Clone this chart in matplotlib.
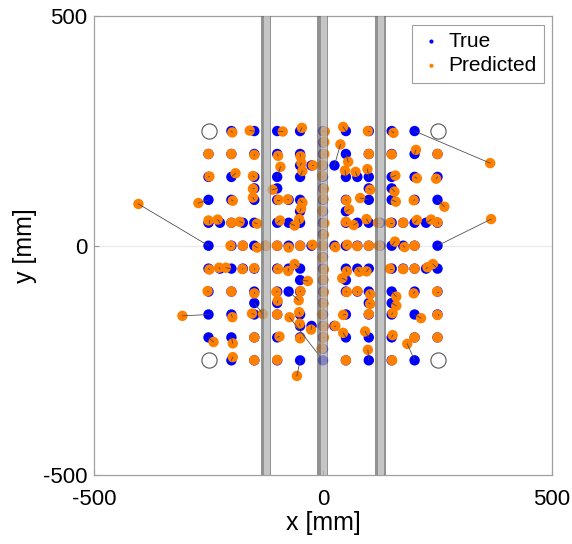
import matplotlib
matplotlib.use("Agg")
import matplotlib.pyplot as plt
import numpy as np

plt.rcParams['font.family'] = ['Liberation Sans', 'DejaVu Sans']
plt.rcParams['axes.unicode_minus'] = False

# true / predicted positions in mm
true_x = [-200, -150, -100, -50, 0, 50, 100, 150, 200,
          -250, -200, -150, -100, -50, 0, 50, 100, 150, 200, 250,
          -50, -25, 25, 75,
          -250, -200, -150, -100, -50, 0, 50, 100, 150, 200, 250,
          -150, -100, 0, 100, 150,
          -250, -200, -150, -100, -75, -50, 0, 50, 100, 150, 200, 250,
          -50, 0, 50,
          -250, -225, -200, -175, -150, -100, -75, -50, 0, 50, 75, 100, 125, 150, 175, 200, 225, 250,
          -250, -200, -175, -150, -125, -100, -75, -50, -25, 0, 25, 50, 75, 100, 125, 150, 175, 200, 250,
          -250, -225, -200, -175, -150, -100, -75, -50, 0, 50, 75, 100, 150, 175, 200, 225, 250,
          -50, 0, 50,
          -250, -200, -150, -100, -75, -50, 0, 50, 75, 100, 150, 200, 250,
          -150, -100, 0, 100, 150,
          -250, -200, -150, -100, -50, 0, 50, 100, 150, 200, 250,
          -50, -25, 25,
          -250, -200, -150, -100, -50, 0, 50, 100, 150, 200, 250,
          -200, -150, -100, -50, 0, 50, 100, 150, 200,
          0, 0, 0, 0, 0, 0]
true_y = [250] * 9 + [200] * 11 + [175, 175, 175, 150] + [150] * 11 + [125] * 5 + [100] * 12 + [75] * 3 \
    + [50] * 18 + [0] * 19 + [-50] * 17 + [-75] * 3 + [-100] * 13 + [-125] * 5 + [-150] * 11 \
    + [-175] * 3 + [-200] * 11 + [-250] * 9 + [225, 175, 25, -25, -175, -225]

pred_x = [-198, -160, -88, -46, 4, 44, 98, 154, 365,
          -250, -200, -150, -98, -49, 3, 55, 100, 150, 203, 250,
          -47, -22, 38, 71,
          -248, -191, -153, -93, -45, -2, 48, 97, 158, 205, 247,
          -153, -110, 2, 103, 156,
          -272, -197, -153, -97, -77, -45, 1, 51, 81, 159, 198, 265,
          -48, -2, 57,
          -250, -230, -200, -182, -144, -94, -62, -52, 3, 50, 67, 95, 120, 147, 175, 205, 236, 250,
          -403, -202, -175, -144, -124, -100, -75, -50, -23, 0, 27, 53, 75, 100, 122, 157, 178, 200, 367,
          -248, -227, -212, -176, -150, -98, -76, -62, 2, 52, 79, 95, 146, 175, 200, 228, 240,
          -33, 1, 42,
          -252, -200, -150, -102, -53, -49, 2, 52, 75, 103, 160, 198, 249,
          -131, -99, 1, 103, 160,
          -307, -198, -155, -100, -52, -2, 44, 100, 152, 214, 250,
          -51, -26, 27,
          -239, -197, -150, -95, -50, 2, 44, 92, 152, 200, 250,
          -197, -150, -100, -57, -73, 50, 98, 151, 184,
          3, -2, 2, -1, 2, -3]
pred_y = [247, 251, 249, 257, 249, 259, 250, 246, 180,
          200, 200, 198, 196, 195, 200, 183, 200, 199, 209, 200,
          180, 175, 221, 161,
          151, 158, 152, 172, 163, 152, 164, 167, 153, 147, 146,
          124, 122, 124, 122, 118,
          93, 98, 105, 100, 101, 94, 102, 99, 104, 96, 99, 85,
          81, 76, 79,
          55, 57, 50, 52, 48, 55, 44, 58, 49, 52, 45, 58, 50, 50, 50, 56, 57, 51,
          91, 0, 0, -4, 0, 0, -4, 0, 2, 0, -3, 2, -1, 0, 0, 9, -3, 0, 58,
          -52, -48, -48, -51, -49, -51, -55, -40, -52, -56, -57, -56, -50, -51, -50, -47, -40,
          -77, -74, -71,
          -99, -100, -104, -101, -119, -99, -101, -101, -99, -106, -111, -104, -100,
          -149, -120, -126, -127, -131,
          -153, -156, -148, -150, -145, -150, -151, -149, -147, -158, -151,
          -170, -183, -175,
          -210, -213, -200, -198, -202, -200, -190, -187, -195, -200, -200,
          -243, -250, -249, -284, -156, -250, -227, -250, -214,
          226, 176, 24, -26, -176, -224]

empty_x = [-250, 250, -250, 250]
empty_y = [250, 250, -250, -250]

rail_left = [-136, -13, 113]   # left edge of each rail
rail_parts = [(0, 8, '#6e6e6e'), (8, 21, '#b2b2b2'), (21, 23.5, '#6e6e6e')]

fig = plt.figure(figsize=(5.72, 5.44), dpi=100)
ax = fig.add_axes([94 / 572, 69 / 544, 458 / 572, 458.6 / 544])

ax.axhline(0, color='#ebebeb', lw=1.0, zorder=0)

ax.scatter(true_x, true_y, s=56, color='#0000ff', edgecolors='none', zorder=2, label='True')
ax.scatter(pred_x, pred_y, s=56, color='#ff8000', edgecolors='none', zorder=3, label='Predicted')
for tx, ty, px, py in zip(true_x, true_y, pred_x, pred_y):
    ax.plot([tx, px], [ty, py], color='#444444', lw=0.55, zorder=4)

ax.scatter(empty_x, empty_y, s=120, facecolors='white', edgecolors='#555555', linewidths=0.8, zorder=3)

for xl in rail_left:
    for a, b, c in rail_parts:
        ax.axvspan(xl + a, xl + b, color=c, alpha=0.75, lw=0, zorder=5)

ax.set_xlim(-500, 500)
ax.set_ylim(-500, 500)
ax.set_xticks([-500, 0, 500])
ax.set_yticks([-500, 0, 500])
ax.tick_params(direction='in', length=3.5, color='#9a9a9a', labelsize=16, pad=5)
ax.tick_params(axis='x', pad=10)
for sp in ax.spines.values():
    sp.set_color('#a0a0a0')
    sp.set_linewidth(0.9)
ax.set_xlabel('x [mm]', fontsize=18, labelpad=1)
ax.set_ylabel('y [mm]', fontsize=18, labelpad=4)

leg = ax.legend(loc='upper right', fontsize=15, markerscale=0.4, handletextpad=0.2,
                borderaxespad=0.4, fancybox=False, framealpha=1, edgecolor='#a0a0a0',
                handlelength=1.2, borderpad=0.35, labelspacing=0.25)
leg.get_frame().set_linewidth(0.8)
leg.set_zorder(10)

fig.savefig('out.png', dpi=100)
